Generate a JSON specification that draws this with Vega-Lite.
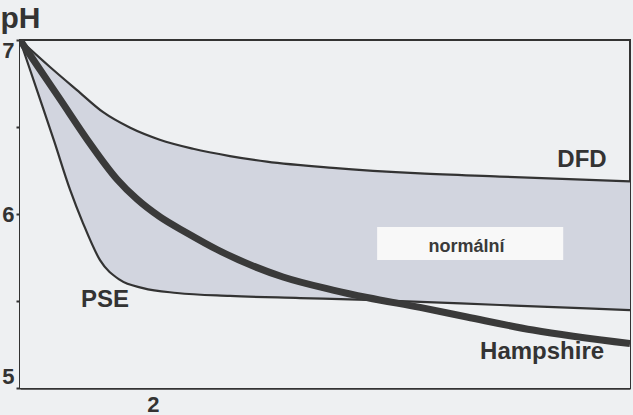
{
  "$schema": "https://vega.github.io/schema/vega-lite/v6.json",
  "width": 610,
  "height": 348,
  "autosize": "none",
  "padding": {"left": 20, "top": 40, "right": 3, "bottom": 27},
  "background": "#eef0f2",
  "config": {
    "view": {"stroke": "#333333", "strokeWidth": 2, "fill": "#eef0f2"},
    "font": "Liberation Sans",
    "axis": {
      "grid": false, "zindex": 1,
      "domainColor": "#333333", "domainWidth": 2.5,
      "tickColor": "#333333", "tickWidth": 2,
      "labelFontSize": 22, "labelFontWeight": "bold", "labelColor": "#333333",
      "labelFont": "Liberation Sans",
      "titleFont": "Liberation Sans", "titleColor": "#333333"
    },
    "axisX": {"tickSize": -4, "labelPadding": 10},
    "axisY": {"tickSize": 4, "labelPadding": 2}
  },
  "datasets": {
    "curves": [
      {"series": "DFD", "t": 0.05, "pH": 7.0},
      {"series": "DFD", "t": 0.49, "pH": 6.845},
      {"series": "DFD", "t": 0.886, "pH": 6.712},
      {"series": "DFD", "t": 1.27, "pH": 6.585},
      {"series": "DFD", "t": 1.66, "pH": 6.497},
      {"series": "DFD", "t": 2.1, "pH": 6.427},
      {"series": "DFD", "t": 2.59, "pH": 6.375},
      {"series": "DFD", "t": 3.13, "pH": 6.333},
      {"series": "DFD", "t": 3.67, "pH": 6.301},
      {"series": "DFD", "t": 4.64, "pH": 6.265},
      {"series": "DFD", "t": 5.92, "pH": 6.233},
      {"series": "DFD", "t": 7.09, "pH": 6.215},
      {"series": "DFD", "t": 9.0, "pH": 6.187},
      {"series": "PSE", "t": 0.05, "pH": 7.0},
      {"series": "PSE", "t": 0.3, "pH": 6.71},
      {"series": "PSE", "t": 0.55, "pH": 6.42},
      {"series": "PSE", "t": 0.784, "pH": 6.14},
      {"series": "PSE", "t": 0.974, "pH": 5.948},
      {"series": "PSE", "t": 1.224, "pH": 5.735},
      {"series": "PSE", "t": 1.517, "pH": 5.621},
      {"series": "PSE", "t": 1.855, "pH": 5.574},
      {"series": "PSE", "t": 2.353, "pH": 5.546},
      {"series": "PSE", "t": 3.131, "pH": 5.529},
      {"series": "PSE", "t": 4.158, "pH": 5.517},
      {"series": "PSE", "t": 5.141, "pH": 5.506},
      {"series": "PSE", "t": 7.092, "pH": 5.477},
      {"series": "PSE", "t": 9.0, "pH": 5.448},
      {"series": "Hampshire", "t": 0.05, "pH": 7.0},
      {"series": "Hampshire", "t": 0.3, "pH": 6.855},
      {"series": "Hampshire", "t": 0.637, "pH": 6.66},
      {"series": "Hampshire", "t": 1.05, "pH": 6.42},
      {"series": "Hampshire", "t": 1.473, "pH": 6.2},
      {"series": "Hampshire", "t": 1.767, "pH": 6.085},
      {"series": "Hampshire", "t": 2.104, "pH": 5.983},
      {"series": "Hampshire", "t": 2.5, "pH": 5.891},
      {"series": "Hampshire", "t": 2.94, "pH": 5.796},
      {"series": "Hampshire", "t": 3.909, "pH": 5.638},
      {"series": "Hampshire", "t": 4.642, "pH": 5.563},
      {"series": "Hampshire", "t": 5.141, "pH": 5.52},
      {"series": "Hampshire", "t": 5.919, "pH": 5.463},
      {"series": "Hampshire", "t": 6.608, "pH": 5.408},
      {"series": "Hampshire", "t": 7.576, "pH": 5.333},
      {"series": "Hampshire", "t": 9.0, "pH": 5.255}
    ],
    "labels": [
      {"label": "DFD", "t": 8.295, "pH": 6.31},
      {"label": "PSE", "t": 1.297, "pH": 5.506},
      {"label": "Hampshire", "t": 7.71, "pH": 5.207}
    ],
    "zone": [
      {"label": "normální", "t0": 5.29, "t1": 8.02, "p0": 5.736, "p1": 5.925, "t": 6.6, "pH": 5.81}
    ]
  },
  "encoding": {
    "x": {
      "field": "t", "type": "quantitative",
      "scale": {"domain": [0.05, 9.0], "nice": false, "zero": false},
      "axis": {
        "values": [1, 2, 3, 4, 5, 6, 7, 8],
        "labelExpr": "datum.value == 2 ? '2' : ''",
        "title": null
      }
    },
    "y": {
      "field": "pH", "type": "quantitative",
      "scale": {"domain": [5, 7], "nice": false, "zero": false},
      "axis": {
        "values": [5, 5.5, 6, 6.5, 7],
        "labelExpr": "datum.value % 1 == 0 ? format(datum.value, 'd') : ''",
        "labelFlush": true,
        "title": "pH", "titleAngle": 0, "titleAlign": "left", "titleBaseline": "alphabetic",
        "titleX": -20, "titleY": -13, "titleFontSize": 30, "titleFontWeight": "bold"
      }
    }
  },
  "layer": [
    {
      "data": {"name": "curves"},
      "transform": [{"filter": "datum.series == 'DFD'"}],
      "mark": {"type": "area", "interpolate": "monotone", "fill": "#d2d5df", "clip": true},
      "encoding": {"y2": {"datum": 5}}
    },
    {
      "data": {"name": "curves"},
      "transform": [{"filter": "datum.series == 'PSE'"}],
      "mark": {"type": "area", "interpolate": "monotone", "fill": "#eef0f2", "clip": true},
      "encoding": {"y2": {"datum": 5}}
    },
    {
      "data": {"name": "zone"},
      "mark": {"type": "rect", "fill": "#f8f8f8"},
      "encoding": {
        "x": {"field": "t0", "type": "quantitative"},
        "x2": {"field": "t1"},
        "y": {"field": "p0", "type": "quantitative"},
        "y2": {"field": "p1"}
      }
    },
    {
      "data": {"name": "curves"},
      "transform": [{"filter": "datum.series != 'Hampshire'"}],
      "mark": {"type": "line", "interpolate": "monotone", "stroke": "#333333", "strokeWidth": 2.2, "clip": true},
      "encoding": {"detail": {"field": "series"}}
    },
    {
      "data": {"name": "curves"},
      "transform": [{"filter": "datum.series == 'Hampshire'"}],
      "mark": {"type": "line", "interpolate": "monotone", "stroke": "#3a3a3a", "strokeWidth": 7, "clip": true},
      "encoding": {}
    },
    {
      "data": {"name": "labels"},
      "mark": {"type": "text", "font": "Liberation Sans", "fontWeight": "bold", "fontSize": 24, "fill": "#333333", "align": "center", "baseline": "middle"},
      "encoding": {"text": {"field": "label"}}
    },
    {
      "data": {"name": "zone"},
      "mark": {"type": "text", "font": "Liberation Sans", "fontWeight": "bold", "fontSize": 18, "fill": "#3a3a3a", "align": "center", "baseline": "middle"},
      "encoding": {"text": {"field": "label"}}
    }
  ]
}
